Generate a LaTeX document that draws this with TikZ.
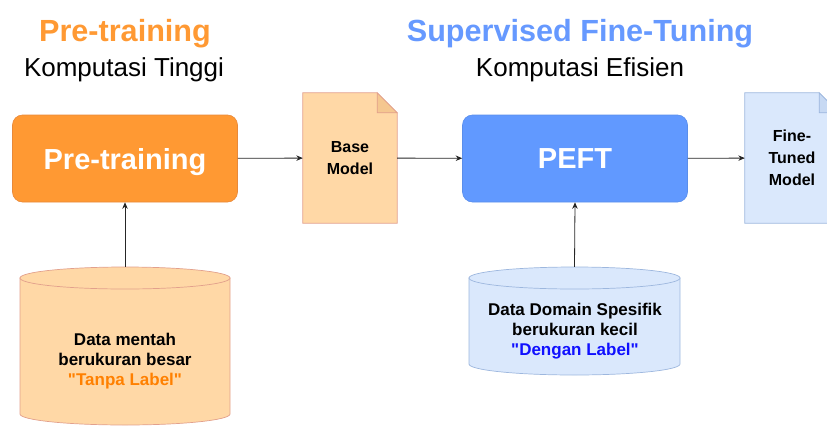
\documentclass[tikz,border=0pt]{standalone}
\usepackage{fontspec}
\setmainfont{Liberation Sans}
% same face without the TeX input mapping, so " stays a straight quote
\newfontfamily\plainquote{Liberation Sans}
\newcommand{\sq}{{\plainquote"}}
\usetikzlibrary{arrows.meta,backgrounds}

\definecolor{orMain}{HTML}{FF9933}
\definecolor{orEdge}{HTML}{E8893A}
\definecolor{orLight}{HTML}{FFD8A6}
\definecolor{orLightEdge}{HTML}{E2A08C}
\definecolor{orFold}{HTML}{F5C790}
\definecolor{orText}{HTML}{FF8000}
\definecolor{blMain}{HTML}{6199FF}
\definecolor{blEdge}{HTML}{5A8EEB}
\definecolor{blTitle}{HTML}{6699FF}
\definecolor{blLight}{HTML}{DAE8FC}
\definecolor{blLightEdge}{HTML}{9DB7DE}
\definecolor{blFold}{HTML}{C7D9F3}
\definecolor{blText}{HTML}{1010FF}

\begin{document}
\begin{tikzpicture}[x=1pt,y=-1pt,
  title/.style={anchor=base, font=\fontsize{30.6}{36}\selectfont\bfseries},
  subtitle/.style={anchor=base, font=\fontsize{26}{30}\selectfont},
  stage/.style={rounded corners=10pt, minimum width=225pt, minimum height=87pt,
    inner sep=0pt, line width=0.6pt, text=white, text depth=0pt,
    font=\fontsize{29}{34}\selectfont\bfseries},
  docbody/.style={minimum width=94pt, minimum height=130pt, inner sep=0pt,
    align=center, font=\fontsize{16}{22}\selectfont\bfseries},
  dbbody/.style={inner sep=0pt},
  dbtext/.style={align=center, inner sep=0pt, font=\fontsize{17}{20}\selectfont\bfseries},
  arr/.style={draw=black!85, line width=0.8pt, -{Stealth[length=6.5pt,width=5.5pt]}},
]
\useasboundingbox (0,0) rectangle (827,426);

% headings
\node[title, text=orMain] (h1) at (125,41) {Pre-training};
\node[subtitle] (s1) at (124,76) {Komputasi Tinggi};
\node[title, text=blTitle] (h2) at (580,41) {Supervised Fine-Tuning};
\node[subtitle] (s2) at (580,76) {Komputasi Efisien};

% processing stages
\node[stage, fill=orMain, draw=orEdge] (pre) at (125,158.5) {Pre-training};
\node[stage, fill=blMain, draw=blEdge] (peft) at (575,158.5) {PEFT};

% model documents
\node[docbody] (base) at (350,158) {Base\\Model};
\node[docbody] (ft) at (792,158) {Fine-\\Tuned\\Model};

% data stores
\node[dbbody, minimum width=210pt, minimum height=158pt] (raw) at (125,346) {};
\node[dbbody, minimum width=211pt, minimum height=108pt] (dom) at (574.5,321) {};
\node[dbtext] (rawtxt) at (125,361) {Data mentah\\berukuran besar\\\textcolor{orText}{\sq Tanpa Label\sq}};
\node[dbtext] (domtxt) at (575,331) {Data Domain Spesifik\\berukuran kecil\\\textcolor{blText}{\sq Dengan Label\sq}};

\begin{scope}[on background layer]
  % document outlines with folded corner
  \filldraw[fill=orLight, draw=orLightEdge, line width=0.7pt]
    (base.north west) -- ([xshift=-20pt]base.north east) -- ([yshift=-20pt]base.north east)
    -- (base.south east) -- (base.south west) -- cycle;
  \filldraw[fill=orFold, draw=orLightEdge, line width=0.7pt]
    ([xshift=-20pt]base.north east) -- ([xshift=-20pt,yshift=-20pt]base.north east)
    -- ([yshift=-20pt]base.north east) -- cycle;
  \filldraw[fill=blLight, draw=blLightEdge, line width=0.7pt]
    (ft.north west) -- ([xshift=-20pt]ft.north east) -- ([yshift=-20pt]ft.north east)
    -- (ft.south east) -- (ft.south west) -- cycle;
  \filldraw[fill=blFold, draw=blLightEdge, line width=0.7pt]
    ([xshift=-20pt]ft.north east) -- ([xshift=-20pt,yshift=-20pt]ft.north east)
    -- ([yshift=-20pt]ft.north east) -- cycle;

  % cylinder for the raw data
  \filldraw[fill=orLight, draw=orLightEdge, line width=0.7pt]
    (20,278) -- (20,414) arc[start angle=180, end angle=0, x radius=105, y radius=11]
    -- (230,278) -- cycle;
  \filldraw[fill=orLight, draw=orLightEdge, line width=0.7pt]
    (125,278) ellipse[x radius=105, y radius=11];

  % cylinder for the domain data
  \filldraw[fill=blLight, draw=blLightEdge, line width=0.7pt]
    (469,278) -- (469,364) arc[start angle=180, end angle=0, x radius=105.5, y radius=11]
    -- (680,278) -- cycle;
  \filldraw[fill=blLight, draw=blLightEdge, line width=0.7pt]
    (574.5,278) ellipse[x radius=105.5, y radius=11];
\end{scope}

% connectors
\draw[arr] (pre) -- (base);
\draw[arr] (base) -- (peft);
\draw[arr] (peft) -- (ft);
\draw[arr] (raw.north) -- (pre.south);
\draw[arr] (dom.north) -- (peft.south);
\end{tikzpicture}
\end{document}
